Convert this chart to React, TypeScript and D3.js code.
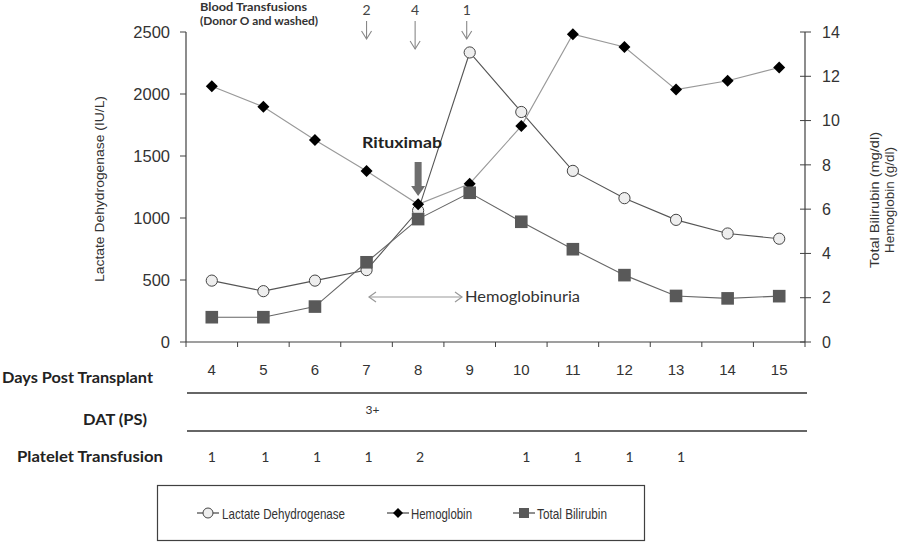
import React from "react";
import * as d3 from "d3";

const days = [4, 5, 6, 7, 8, 9, 10, 11, 12, 13, 14, 15];
const ldh = [495, 410, 495, 580, 1060, 2335, 1855, 1380, 1160, 985, 875, 833];
const hemoglobin = [11.55, 10.62, 9.12, 7.72, 6.22, 7.15, 9.75, 13.9, 13.32, 11.4, 11.8, 12.4];
const bilirubin = [1.12, 1.12, 1.6, 3.6, 5.55, 6.74, 5.43, 4.19, 3.02, 2.08, 1.97, 2.07];
const ldhTicks = [0, 500, 1000, 1500, 2000, 2500];
const rightTicks = [0, 2, 4, 6, 8, 10, 12, 14];
const datRow = ["", "", "", "3+", "", "", "", "", "", "", "", ""];
const plateletRow = ["1", "1", "1", "1", "2", "", "1", "1", "1", "1", "", ""];
const transfusions = [
  { day: 7, units: "2", len: 18 },
  { day: 8, units: "4", len: 28 },
  { day: 9, units: "1", len: 18 },
];

const AX = "#404040";
const SANS = "'Liberation Sans', Arial, sans-serif";
const CAL = "Lato, 'Open Sans', sans-serif";

export default function App() {
  const W = 900, H = 542;
  const left = 186, right = 805, top = 32, bottom = 342;
  const x = d3.scaleBand<number>().domain(days).range([left, right]);
  const cx = (d: number) => (x(d) as number) + x.bandwidth() / 2;
  const yL = d3.scaleLinear().domain([0, 2500]).range([bottom, top]);
  const yR = d3.scaleLinear().domain([0, 14]).range([bottom, top]);

  const line = d3.line<[number, number]>().x((p) => p[0]).y((p) => p[1]);
  const ldhPts: [number, number][] = days.map((d, i) => [cx(d), yL(ldh[i])]);
  const hgbPts: [number, number][] = days.map((d, i) => [cx(d), yR(hemoglobin[i])]);
  const bilPts: [number, number][] = days.map((d, i) => [cx(d), yR(bilirubin[i])]);
  const diamond = (px: number, py: number, r: number) =>
    `M${px},${py - r}L${px + r},${py}L${px},${py + r}L${px - r},${py}Z`;

  const boundaries = days.map((d) => x(d) as number).concat([right]);

  return (
    <svg width={W} height={H} style={{ position: "absolute", left: 0, top: 0, background: "#fff" }}>
      <rect width={W} height={H} fill="#fff" />
      {/* Left axis */}
      <line x1={left} x2={left} y1={top} y2={bottom} stroke={AX} strokeWidth={1.2} />
      {ldhTicks.map((t) => (
        <g key={"lt" + t}>
          <line x1={left - 6} x2={left} y1={yL(t)} y2={yL(t)} stroke={AX} />
          <text x={left - 16} y={yL(t)} dy="0.36em" textAnchor="end" fontFamily={SANS} fontSize={16.5} fill="#333">
            {t}
          </text>
        </g>
      ))}
      {/* Right axis */}
      <line x1={right} x2={right} y1={top} y2={bottom} stroke={AX} strokeWidth={1.2} />
      {rightTicks.map((t) => (
        <g key={"rt" + t}>
          <line x1={right - 5} x2={right + 6} y1={yR(t)} y2={yR(t)} stroke={AX} />
          <text x={right + 17} y={yR(t)} dy="0.36em" textAnchor="start" fontFamily={SANS} fontSize={16} fill="#333">
            {t}
          </text>
        </g>
      ))}
      {/* X axis */}
      <line x1={left} x2={right} y1={bottom} y2={bottom} stroke={AX} strokeWidth={1.2} />
      {boundaries.map((b, i) => (
        <line key={"xb" + i} x1={b} x2={b} y1={bottom} y2={bottom + 5} stroke={AX} />
      ))}
      {/* Axis titles */}
      <text transform={`translate(104,189) rotate(-90)`} textAnchor="middle" fontFamily={SANS} fontSize={13.5} fill="#333" textLength={186} lengthAdjust="spacingAndGlyphs">
        Lactate Dehydrogenase (IU/L)
      </text>
      <text transform={`translate(879,200) rotate(-90)`} textAnchor="middle" fontFamily={SANS} fontSize={13} fill="#333" textLength={136} lengthAdjust="spacingAndGlyphs">
        Total Bilirubin (mg/dl)
      </text>
      <text transform={`translate(894,200) rotate(-90)`} textAnchor="middle" fontFamily={SANS} fontSize={13} fill="#333" textLength={106} lengthAdjust="spacingAndGlyphs">
        Hemoglobin (g/dl)
      </text>

      {/* Series: LDH */}
      <path d={line(ldhPts) as string} fill="none" stroke="#555" strokeWidth={1.1} />
      {ldhPts.map((p, i) => (
        <circle key={"c" + i} cx={p[0]} cy={p[1]} r={5.6} fill="#eeeeee" stroke="#444" strokeWidth={1} />
      ))}
      {/* Hemoglobin */}
      <path d={line(hgbPts) as string} fill="none" stroke="#999" strokeWidth={1.1} />
      {hgbPts.map((p, i) => (
        <path key={"h" + i} d={diamond(p[0], p[1], 6)} fill="#000" />
      ))}
      {/* Bilirubin */}
      <path d={line(bilPts) as string} fill="none" stroke="#666" strokeWidth={1.1} />
      {bilPts.map((p, i) => (
        <rect key={"b" + i} x={p[0] - 6.3} y={p[1] - 6.3} width={12.6} height={12.6} fill="#595959" />
      ))}

      {/* Blood transfusion annotation */}
      <text x={200} y={11} fontFamily={CAL} fontWeight={700} fontSize={11.5} fill="#333" textLength={107} lengthAdjust="spacingAndGlyphs">Blood Transfusions</text>
      <text x={200} y={25} fontFamily={CAL} fontWeight={700} fontSize={11.5} fill="#333" textLength={118} lengthAdjust="spacingAndGlyphs">(Donor O and washed)</text>
      {transfusions.map((t) => {
        const px = cx(t.day) - (t.day === 8 ? 3 : t.day === 9 ? 3 : 0);
        return (
          <g key={"tr" + t.day}>
            <text x={px} y={15} textAnchor="middle" fontFamily={CAL} fontSize={14} fill="#444">{t.units}</text>
            <line x1={px} x2={px} y1={21} y2={21 + t.len} stroke="#888" strokeWidth={1.1} />
            <path d={`M${px - 5},${21 + t.len - 8}L${px},${21 + t.len}L${px + 5},${21 + t.len - 8}`} fill="none" stroke="#888" strokeWidth={1.1} />
          </g>
        );
      })}

      {/* Rituximab */}
      <text x={362} y={148} fontFamily={CAL} fontWeight={700} fontSize={15.5} fill="#222" textLength={80} lengthAdjust="spacingAndGlyphs">Rituximab</text>
      <path d={`M${cx(8) - 3.5},162L${cx(8) + 3.5},162L${cx(8) + 3.5},186L${cx(8) + 7},186L${cx(8)},196L${cx(8) - 7},186L${cx(8) - 3.5},186Z`} fill="#6e6e6e" />

      {/* Hemoglobinuria */}
      <line x1={369} x2={462} y1={297} y2={297} stroke="#999" strokeWidth={1.2} />
      <path d="M376,292L369,297L376,302" fill="none" stroke="#999" strokeWidth={1.2} />
      <path d="M455,292L462,297L455,302" fill="none" stroke="#999" strokeWidth={1.2} />
      <text x={465} y={302} fontFamily={CAL} fontSize={15.5} fill="#333" textLength={115} lengthAdjust="spacingAndGlyphs">Hemoglobinuria</text>

      {/* Table */}
      <text x={2} y={383} fontFamily={CAL} fontWeight={700} fontSize={15} fill="#222" textLength={151} lengthAdjust="spacingAndGlyphs">Days Post Transplant</text>
      {days.map((d) => (
        <text key={"d" + d} x={cx(d)} y={375} textAnchor="middle" fontFamily={SANS} fontSize={15} fill="#333">{d}</text>
      ))}
      <line x1={187} x2={807} y1={393} y2={393} stroke="#333" strokeWidth={1.3} />
      <text x={83} y={425} fontFamily={CAL} fontWeight={700} fontSize={15} fill="#222" textLength={64} lengthAdjust="spacingAndGlyphs">DAT (PS)</text>
      {days.map((d, i) => (
        <text key={"dat" + d} x={cx(d) + 6} y={414} textAnchor="middle" fontFamily={CAL} fontSize={12} fill="#333">{datRow[i]}</text>
      ))}
      <line x1={187} x2={807} y1={431} y2={431} stroke="#333" strokeWidth={1.3} />
      <text x={17} y={462} fontFamily={CAL} fontWeight={700} fontSize={15} fill="#222" textLength={146} lengthAdjust="spacingAndGlyphs">Platelet Transfusion</text>
      {days.map((d, i) => (
        <text key={"pl" + d} x={cx(d) + (i >= 6 ? 5 : i >= 1 && i <= 4 ? 2 : 0)} y={462} textAnchor="middle" fontFamily={CAL} fontSize={14} fill="#333">{plateletRow[i]}</text>
      ))}

      {/* Legend */}
      <rect x={157.5} y={485.5} width={487} height={55} fill="#fff" stroke="#404040" strokeWidth={1.2} />
      <line x1={197} x2={219} y1={513} y2={513} stroke="#444" strokeWidth={1.2} />
      <circle cx={208} cy={513} r={5} fill="#eee" stroke="#444" />
      <text x={222} y={518.5} fontFamily={SANS} fontSize={15} fill="#333" textLength={123} lengthAdjust="spacingAndGlyphs">Lactate Dehydrogenase</text>
      <line x1={387} x2={409} y1={513} y2={513} stroke="#444" strokeWidth={1.2} />
      <path d={diamond(398, 513, 5)} fill="#000" />
      <text x={411} y={518.5} fontFamily={SANS} fontSize={15} fill="#333" textLength={61} lengthAdjust="spacingAndGlyphs">Hemoglobin</text>
      <line x1={513} x2={535} y1={513} y2={513} stroke="#444" strokeWidth={1.2} />
      <rect x={519} y={508} width={10} height={10} fill="#595959" />
      <text x={537} y={518.5} fontFamily={SANS} fontSize={15} fill="#333" textLength={70} lengthAdjust="spacingAndGlyphs">Total Bilirubin</text>
    </svg>
  );
}
